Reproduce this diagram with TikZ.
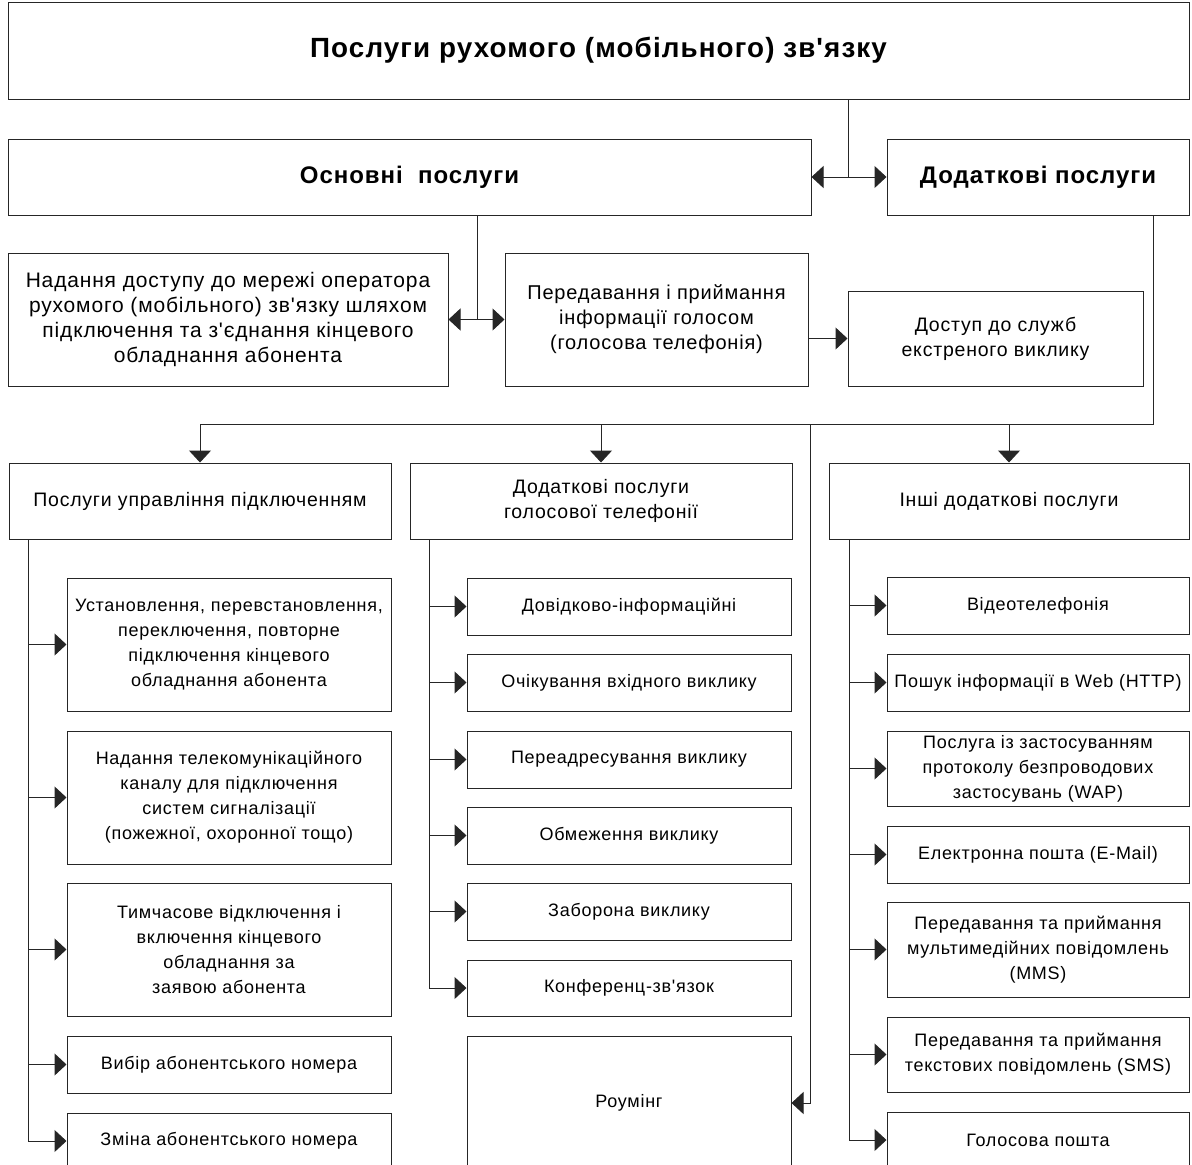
\documentclass[tikz,border=0pt]{standalone}
\usepackage{fontspec}
\newfontfamily\arial[LetterSpace=4]{Liberation Sans}
\usetikzlibrary{arrows.meta}
\tikzset{
  bx/.style={draw=black!85, line width=1pt, rectangle, inner sep=0pt, align=center, font=\arial\fontsize{19.5}{25}\selectfont},
  item/.style={bx, font=\arial\fontsize{18}{25}\selectfont},
  bxb/.style={bx, font=\arial\bfseries\fontsize{24}{28}\selectfont},
  ln/.style={draw=black!85, line width=1pt},
  arr/.style={ln, -{Triangle[length=12pt,width=22pt]}}
}
\begin{document}
\begin{tikzpicture}[x=1pt,y=-1pt]
\clip (0,0) rectangle (1192,1165);
\fill[white] (0,0) rectangle (1192,1165);
% top level
\node[bxb, minimum width=1181, minimum height=97, font=\arial\bfseries\fontsize{27.8}{32}\selectfont] (top) at (598.5,50.5) {Послуги рухомого (мобільного) зв'язку};
\node[bxb, minimum width=803, minimum height=76] (osn) at (409.5,177) {Основні\ \ послуги};
\node[bxb, minimum width=302, minimum height=76] (dod) at (1038,177) {Додаткові послуги};
\node[bx, minimum width=440, minimum height=133, font=\arial\fontsize{21}{25}\selectfont] (nad) at (228,319.5) {Надання доступу до мережі оператора\\рухомого (мобільного) зв'язку шляхом\\підключення та з'єднання кінцевого\\обладнання абонента};
\node[bx, minimum width=303, minimum height=133, font=\arial\fontsize{20}{25}\selectfont] (per) at (656.5,319.5) {Передавання і приймання\\інформації голосом\\(голосова телефонія)};
\node[bx, minimum width=295, minimum height=95] (dos) at (995.5,338.5) {Доступ до служб\\екстреного виклику};
% column heads
\node[bx, minimum width=382, minimum height=76] (L0) at (200,501) {Послуги управління підключенням};
\node[bx, minimum width=382, minimum height=76] (M0) at (601,501) {Додаткові послуги\\голосової телефонії};
\node[bx, minimum width=360, minimum height=76] (R0) at (1009,501) {Інші додаткові послуги};
% left column
\node[item, minimum width=324, minimum height=133] (L1) at (229,644.5) {Установлення, перевстановлення,\\переключення, повторне\\підключення кінцевого\\обладнання абонента};
\node[item, minimum width=324, minimum height=133] (L2) at (229,797.5) {Надання телекомунікаційного\\каналу для підключення\\систем сигналізації\\(пожежної, охоронної тощо)};
\node[item, minimum width=324, minimum height=133] (L3) at (229,949.5) {Тимчасове відключення і\\включення кінцевого\\обладнання за\\заявою абонента};
\node[item, minimum width=324, minimum height=57] (L4) at (229,1064.5) {Вибір абонентського номера};
\node[item, minimum width=324, minimum height=56] (L5) at (229,1141) {Зміна абонентського номера};
% middle column
\node[item, minimum width=324, minimum height=57] (M1) at (629,606.5) {Довідково-інформаційні};
\node[item, minimum width=324, minimum height=57] (M2) at (629,682.5) {Очікування вхідного виклику};
\node[item, minimum width=324, minimum height=57] (M3) at (629,759.5) {Переадресування виклику};
\node[item, minimum width=324, minimum height=57] (M4) at (629,835.5) {Обмеження виклику};
\node[item, minimum width=324, minimum height=57] (M5) at (629,911.5) {Заборона виклику};
\node[item, minimum width=324, minimum height=56] (M6) at (629,988) {Конференц-зв'язок};
\node[item, minimum width=324, minimum height=134] (M7) at (629,1103) {Роумінг};
% right column
\node[item, minimum width=302, minimum height=57] (R1) at (1038,605.5) {Відеотелефонія};
\node[item, minimum width=302, minimum height=57] (R2) at (1038,682.5) {Пошук інформації в Web (HTTP)};
\node[item, minimum width=302, minimum height=75] (R3) at (1038,768.5) {Послуга із застосуванням\\протоколу безпроводових\\застосувань (WAP)};
\node[item, minimum width=302, minimum height=57] (R4) at (1038,854.5) {Електронна пошта (E-Mail)};
\node[item, minimum width=302, minimum height=95] (R5) at (1038,949.5) {Передавання та приймання\\мультимедійних повідомлень\\(MMS)};
\node[item, minimum width=302, minimum height=75] (R6) at (1038,1054.5) {Передавання та приймання\\текстових повідомлень (SMS)};
\node[item, minimum width=302, minimum height=56] (R7) at (1038,1140) {Голосова пошта};
% junctions
\coordinate (tj) at (848,177);
\coordinate (oj) at (477,319.5);
\coordinate (bj) at (1153,424);
\coordinate (rj) at (810,424);
\coordinate (Lj) at (28,539);
\coordinate (Mj) at (429,539);
\coordinate (Rj) at (849,539);
% connectors
\draw[ln] (top.south -| tj) -- (tj);
\draw[arr] (tj) -- (osn.east);
\draw[arr] (tj) -- (dod.west);
\draw[ln] (osn.south -| oj) -- (oj);
\draw[arr] (oj) -- (nad.east);
\draw[arr] (oj) -- (per.west);
\draw[arr] (per.east |- dos.west) -- (dos.west);
\draw[ln] (dod.south -| bj) -- (bj) -- (bj -| L0.north);
\draw[arr] (bj -| L0.north) -- (L0.north);
\draw[arr] (bj -| M0.north) -- (M0.north);
\draw[arr] (bj -| R0.north) -- (R0.north);
\draw[arr] (rj) |- (M7.east);
% left lane
\draw[arr] (Lj) |- (L5.west);
\foreach \n in {L1,L2,L3,L4} \draw[arr] (Lj |- \n.west) -- (\n.west);
% middle lane
\draw[arr] (Mj) |- (M6.west);
\foreach \n in {M1,M2,M3,M4,M5} \draw[arr] (Mj |- \n.west) -- (\n.west);
% right lane
\draw[arr] (Rj) |- (R7.west);
\foreach \n in {R1,R2,R3,R4,R5,R6} \draw[arr] (Rj |- \n.west) -- (\n.west);
\end{tikzpicture}
\end{document}
